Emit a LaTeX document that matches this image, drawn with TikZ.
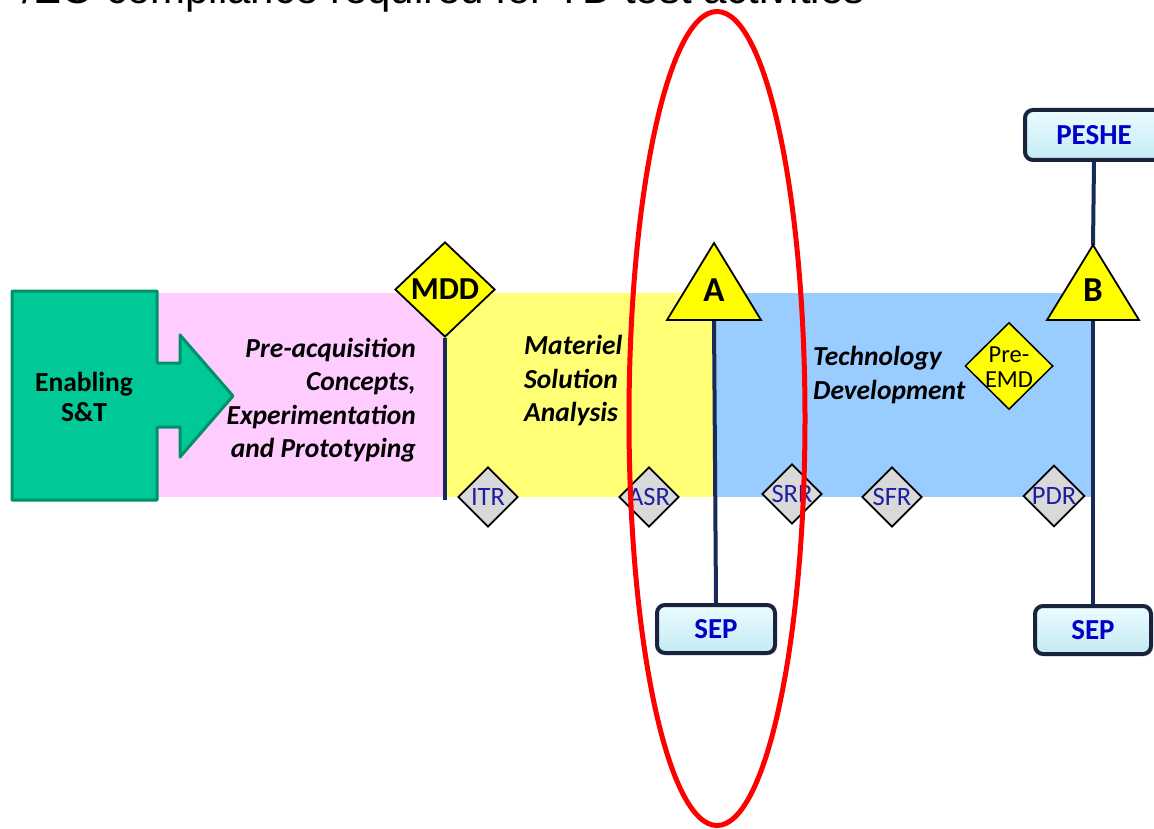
\documentclass[tikz,border=0pt]{standalone}
\usepackage{fontspec}
\setmainfont{Carlito}
\newfontfamily\arialfont{Liberation Sans}
\usetikzlibrary{shapes.geometric,shadows}
\definecolor{stgreen}{RGB}{0,200,150}
\definecolor{stgreenD}{RGB}{0,145,105}
\definecolor{pinkband}{RGB}{255,204,255}
\definecolor{yellowband}{RGB}{255,255,117}
\definecolor{blueband}{RGB}{153,204,255}
\definecolor{navy}{RGB}{24,42,90}
\definecolor{boxblue}{RGB}{0,0,200}
\definecolor{gtext}{RGB}{30,30,160}
\definecolor{msyellow}{RGB}{255,255,0}
\definecolor{boxedge}{RGB}{25,35,60}
\definecolor{boxtop}{RGB}{235,252,255}
\definecolor{boxbot}{RGB}{195,234,244}
\definecolor{revgray}{RGB}{217,217,217}
\begin{document}
\begin{tikzpicture}[x=1pt,y=-1pt,
  phase/.style={font=\fontsize{27.5}{33.5}\selectfont\bfseries\itshape, inner sep=0},
  review/.style={diamond, draw=black, line width=1.8pt, fill=revgray, minimum width=60pt, minimum height=60pt, inner sep=0pt, text=gtext, font=\fontsize{26.5}{26.5}\selectfont},
  docbox/.style={rounded corners=8pt, draw=boxedge, line width=4pt, top color=boxtop, bottom color=boxbot, text=boxblue, font=\fontsize{29}{29}\selectfont\bfseries, minimum height=48pt, inner sep=0pt, drop shadow={opacity=0.25,shadow xshift=2pt,shadow yshift=-2pt}},
  stem/.style={draw=navy, line width=4pt},
  milestone/.style={draw=black, fill=msyellow, line width=1.8pt, line join=miter},
]
\useasboundingbox (0,0) rectangle (1154,829);
\clip (0,0) rectangle (1154,829);

% title (cut by the top edge)
\node[anchor=base east, font=\arialfont\fontsize{42}{42}\selectfont, inner sep=0pt] (title) at (865,4) {/EO compliance required for TD test activities};

% phase bands
\fill[pinkband] (157,293) rectangle (445,497);
\fill[yellowband] (445,293) rectangle (715,497);
\fill[blueband] (715,293) rectangle (1093,497);

% Enabling S&T block arrow
\draw[fill=stgreen, draw=stgreenD, line width=3pt, line join=round]
  (12,291) -- (157,291) -- (157,363) -- (180,363) -- (180,335) -- (233,396)
  -- (180,457) -- (180,427) -- (157,427) -- (157,500) -- (12,500) -- cycle;
\node[font=\fontsize{27.5}{30}\selectfont\bfseries, align=center, inner sep=0pt] (st) at (84,397) {Enabling\\S\&T};

% phase labels
\node[phase, align=right, anchor=east] (preacq) at (416,400) {Pre-acquisition\\Concepts,\\Experimentation\\and Prototyping};
\node[phase, align=left, anchor=west] (msa) at (524,381) {Materiel\\Solution\\Analysis};
\node[phase, align=left, anchor=west] (td) at (813,375) {Technology\\Development};

% document boxes
\node[docbox, minimum width=118pt] (sepA) at (716,629) {SEP};
\node[docbox, minimum width=116pt] (sepB) at (1093,630) {SEP};
\node[docbox, minimum width=138pt, minimum height=50pt] (peshe) at (1094,135) {PESHE};

% stems
\coordinate (mddend) at (445,500);
\coordinate (Abase) at (714,320);
\coordinate (Btop) at (1093,245);
\coordinate (Bbase) at (1093,320);
\draw[stem] (Abase) -- (sepA.north);
\draw[stem] (peshe.south) -- (Btop);
\draw[stem] (Bbase) -- (sepB.north);

% MDD milestone
\node[diamond, milestone, minimum width=100pt, minimum height=95pt, inner sep=0pt, font=\fontsize{32}{32}\selectfont\bfseries] (mdd) at (445,289.5) {MDD};
\draw[stem] (mdd.south) -- (mddend);

% milestone triangles
\draw[milestone] (714,243) -- (761,320) -- (667,320) -- cycle;
\node[font=\fontsize{35}{35}\selectfont\bfseries, inner sep=0pt] (mA) at (714,290) {A};
\draw[milestone] (Btop) -- (1139,320) -- (1047,320) -- cycle;
\node[font=\fontsize{35}{35}\selectfont\bfseries, inner sep=0pt] (mB) at (1093,290) {B};

% Pre-EMD
\node[diamond, milestone, line width=1.5pt, minimum width=88pt, minimum height=87pt, inner sep=0pt] (preemd) at (1009,366) {};
\node[font=\fontsize{24.5}{25}\selectfont, align=center, inner sep=0pt] (preemdT) at (1009,367) {Pre-\\EMD};

% technical reviews
\node[review] (itr) at (488,497) {ITR};
\node[review] (asr) at (649,497) {ASR};
\node[review] (srr) at (792,494) {SRR};
\node[review] (sfr) at (892,497) {SFR};
\node[review] (pdr) at (1054,496) {PDR};

% red highlight ellipse
\draw[red, line width=5pt] (717,418.5) ellipse [x radius=88, y radius=407];
\end{tikzpicture}
\end{document}
